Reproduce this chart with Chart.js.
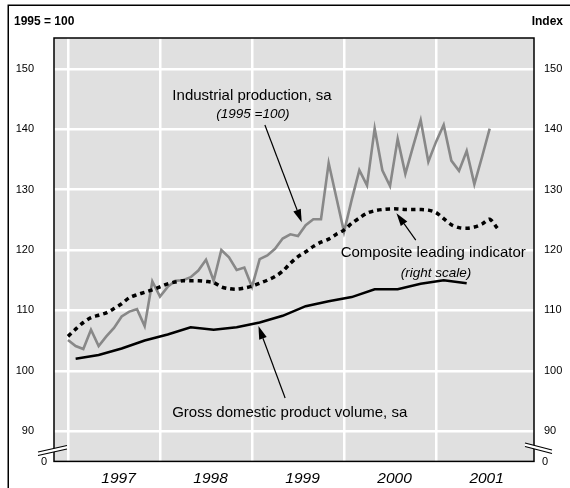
<!DOCTYPE html>
<html>
<head>
<meta charset="utf-8">
<title>Industrial production, leading indicator and GDP</title>
<script src="https://cdn.jsdelivr.net/npm/chart.js@4.4.1/dist/chart.umd.min.js"></script>
<style>
  body { margin: 0; background: #fff; }
</style>
</head>
<body>
<canvas id="chart" width="570" height="488"></canvas>
<script>
// year labels and value ticks
const years = [1997, 1998, 1999, 2000, 2001];
const yTicks = [90, 100, 110, 120, 130, 140, 150];

// industrial production, sa (1995 = 100), monthly from Jan 1997
const ipStart = 1997;
const industrialProduction = [
  105.1, 104.1, 103.6, 106.8, 104.1, 105.7, 107.1, 109.0, 109.8, 110.2, 107.4, 114.8,
  112.3, 113.9, 114.9, 115.0, 115.5, 116.6, 118.4, 114.9, 120.0, 118.8, 116.7, 117.1,
  113.9, 118.5, 119.1, 120.2, 121.9, 122.6, 122.3, 124.1, 125.1, 125.1, 134.4, 128.7,
  123.0, 128.3, 133.2, 130.7, 140.1, 133.2, 130.6, 138.4, 132.6, 137.1, 141.5, 134.6,
  137.9, 140.7, 134.8, 133.1, 136.4, 130.9, 135.4, 140.1
];

// composite leading indicator (right scale), monthly from Jan 1997
const cliStart = 1997;
const leadingIndicator = [
  105.7, 106.9, 108.0, 108.8, 109.2, 109.6, 110.3, 111.1, 112.1, 112.6, 113.0, 113.4,
  113.9, 114.4, 114.7, 114.9, 114.9, 114.9, 114.8, 114.6, 113.9, 113.6, 113.5, 113.7,
  114.0, 114.5, 115.0, 115.6, 116.5, 117.8, 118.9, 119.7, 120.6, 121.3, 121.8, 122.6,
  123.3, 124.4, 125.3, 126.1, 126.5, 126.7, 126.8, 126.8, 126.7, 126.7, 126.7, 126.6,
  126.2, 125.2, 124.2, 123.7, 123.6, 123.8, 124.3, 125.1, 123.6
];

// gross domestic product volume, sa, quarterly from 1997 Q1 (plotted mid-quarter)
const gdpStart = 1997 + 1 / 12;
const gdpVolume = [
  102.0, 102.6, 103.7, 105.0, 106.0, 107.2, 106.8, 107.2, 108.0, 109.1, 110.7, 111.5,
  112.2, 113.5, 113.5, 114.4, 115.0, 114.5
];

const FONT = '"Liberation Sans", Arial, Helvetica, sans-serif';
Chart.defaults.font.family = FONT;
Chart.defaults.color = '#000';

const monthly = (start, vals) => vals.map((v, i) => ({ x: start + i / 12, y: v }));
const quarterly = (start, vals) => vals.map((v, i) => ({ x: start + i / 4, y: v }));

function arrow(ctx, x1, y1, x2, y2) {
  const a = Math.atan2(y2 - y1, x2 - x1);
  const len = 13, half = 4;
  const bx = x2 - len * Math.cos(a), by = y2 - len * Math.sin(a);
  ctx.beginPath();
  ctx.moveTo(x1, y1);
  ctx.lineTo(bx, by);
  ctx.stroke();
  ctx.beginPath();
  ctx.moveTo(x2, y2);
  ctx.lineTo(bx + half * Math.sin(a), by - half * Math.cos(a));
  ctx.lineTo(bx - half * Math.sin(a), by + half * Math.cos(a));
  ctx.closePath();
  ctx.fill();
}

const decor = {
  id: 'decor',
  beforeDraw(chart) {
    const { ctx, chartArea: a } = chart;
    ctx.save();
    ctx.fillStyle = '#fff';
    ctx.fillRect(0, 0, chart.width, chart.height);
    ctx.fillStyle = '#e0e0e0';
    ctx.fillRect(a.left, a.top, a.right - a.left, a.bottom - a.top);
    ctx.restore();
  },
  afterDatasetsDraw(chart) {
    const { ctx } = chart;
    const xs = chart.scales.x, ys = chart.scales.y;
    const px = v => xs.getPixelForValue(v), py = v => ys.getPixelForValue(v);
    ctx.save();
    ctx.fillStyle = '#000';
    ctx.strokeStyle = '#000';
    ctx.lineWidth = 1.2;
    ctx.textAlign = 'center';
    ctx.textBaseline = 'middle';

    ctx.font = '15px ' + FONT;
    ctx.fillText('Industrial production, sa', px(1999.0), py(145.6));
    ctx.font = 'italic 13.5px ' + FONT;
    ctx.fillText('(1995 =100)', px(1999.01), py(142.5));
    arrow(ctx, px(1999.14), py(140.7), px(1999.54), py(124.6));

    ctx.font = '15px ' + FONT;
    ctx.fillText('Composite leading indicator', px(2000.97), py(119.5));
    ctx.font = 'italic 13.5px ' + FONT;
    ctx.fillText('(right scale)', px(2001.0), py(116.2));
    arrow(ctx, px(2000.78), py(121.65), px(2000.57), py(126.1));

    ctx.font = '15px ' + FONT;
    ctx.fillText('Gross domestic product volume, sa', px(1999.41), py(93.06));
    arrow(ctx, px(1999.36), py(95.5), px(1999.07), py(107.4));
    ctx.restore();
  },
  afterDraw(chart) {
    const { ctx, chartArea: a } = chart;
    ctx.save();
    // plot frame
    ctx.strokeStyle = '#000';
    ctx.lineWidth = 1.5;
    ctx.strokeRect(a.left, a.top, a.right - a.left, a.bottom - a.top);

    // scale breaks on both axes
    const brk = (x1, y1, x2, y2) => {
      ctx.fillStyle = '#fff';
      ctx.beginPath();
      ctx.moveTo(x1, y1); ctx.lineTo(x2, y2);
      ctx.lineTo(x2, y2 + 3.5); ctx.lineTo(x1, y1 + 3.5);
      ctx.closePath();
      ctx.fill();
      ctx.lineWidth = 1.2;
      ctx.beginPath();
      ctx.moveTo(x1, y1); ctx.lineTo(x2, y2);
      ctx.moveTo(x1, y1 + 3.5); ctx.lineTo(x2, y2 + 3.5);
      ctx.stroke();
    };
    brk(a.left - 16, 452, a.left + 13, 445.5);
    brk(a.right - 9, 443, a.right + 18, 450);

    ctx.fillStyle = '#000';
    ctx.font = '11px ' + FONT;
    ctx.textBaseline = 'middle';
    ctx.textAlign = 'right';
    ctx.fillText('0', a.left - 7, a.bottom + 1);
    ctx.textAlign = 'left';
    ctx.fillText('0', a.right + 8, a.bottom + 1);

    // unit titles
    ctx.font = 'bold 12px ' + FONT;
    ctx.textAlign = 'left';
    ctx.fillText('1995 = 100', 14, 22);
    ctx.textAlign = 'right';
    ctx.fillText('Index', 563, 22);

    // outer box
    ctx.lineWidth = 1.5;
    ctx.strokeRect(8.25, 5.25, 700, 700);
    ctx.restore();
  }
};

const yScale = (pos, showGrid) => ({
  type: 'linear',
  position: pos,
  min: 85,
  max: 155.1,
  afterBuildTicks: s => { s.ticks = yTicks.map(v => ({ value: v })); },
  afterFit: s => { s.width = pos === 'left' ? 54 : 36; },
  grid: { display: showGrid, color: '#fff', lineWidth: 2.5, drawTicks: false },
  border: { display: false },
  ticks: {
    font: { size: 11 },
    color: '#000',
    padding: pos === 'left' ? 20 : 10,
    crossAlign: 'near'
  }
});

new Chart(document.getElementById('chart'), {
  type: 'line',
  data: {
    datasets: [
      {
        label: 'Composite leading indicator',
        data: monthly(cliStart, leadingIndicator),
        yAxisID: 'y2',
        borderColor: '#000',
        borderWidth: 3.5,
        borderDash: [4.5, 4],
        tension: 0.3,
        pointRadius: 0,
        order: 1
      },
      {
        label: 'Industrial production, sa',
        data: monthly(ipStart, industrialProduction),
        yAxisID: 'y',
        borderColor: '#888',
        borderWidth: 2.6,
        tension: 0,
        pointRadius: 0,
        order: 2
      },
      {
        label: 'Gross domestic product volume, sa',
        data: quarterly(gdpStart, gdpVolume),
        yAxisID: 'y',
        borderColor: '#000',
        borderWidth: 2.6,
        tension: 0,
        pointRadius: 0,
        order: 3
      }
    ]
  },
  options: {
    responsive: false,
    animation: false,
    devicePixelRatio: 1,
    layout: { padding: { left: 0, right: 0, top: 38, bottom: 0 } },
    plugins: { legend: { display: false }, tooltip: { enabled: false } },
    scales: {
      x: {
        type: 'linear',
        min: 1996.848,
        max: 2002.065,
        afterBuildTicks: s => {
          const t = [];
          years.forEach(y => { t.push({ value: y }); t.push({ value: y + 0.55 }); });
          s.ticks = t;
        },
        afterFit: s => { s.height = 26; },
        grid: {
          color: c => (c.tick && Number.isInteger(c.tick.value)) ? '#fff' : 'rgba(0,0,0,0)',
          lineWidth: 2.5,
          drawTicks: false
        },
        border: { display: false },
        ticks: {
          autoSkip: false,
          maxRotation: 0,
          padding: 8,
          color: '#000',
          font: { size: 15.5, style: 'italic' },
          callback: v => Number.isInteger(v) ? '' : String(Math.floor(v))
        }
      },
      y: yScale('left', true),
      y2: yScale('right', false)
    }
  },
  plugins: [decor]
});
</script>
</body>
</html>
